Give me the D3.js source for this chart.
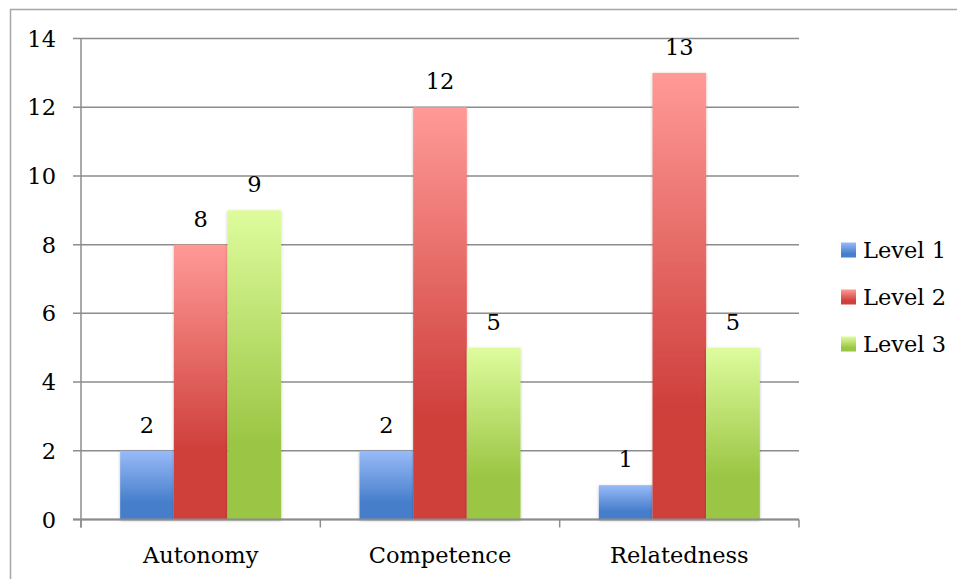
<!DOCTYPE html>
<html>
<head>
<meta charset="utf-8">
<script src="https://cdn.jsdelivr.net/npm/d3@7"></script>
<style>
  body { margin: 0; background: #fff; }
  text { font-family: "DejaVu Serif", serif; fill: #000; }
</style>
</head>
<body>
<div id="chart"></div>
<script>
const categories = ["Autonomy", "Competence", "Relatedness"];
const seriesNames = ["Level 1", "Level 2", "Level 3"];
const level1 = [2, 2, 1];
const level2 = [8, 12, 13];
const level3 = [9, 5, 5];
const yTicks = [0, 2, 4, 6, 8, 10, 12, 14];

const seriesValues = [level1, level2, level3];
const gradients = [
    {id: "g1", top: "#98bbf8", bottom: "#477ecb"},
    {id: "g2", top: "#ff9a97", bottom: "#cf3f3b"},
    {id: "g3", top: "#defc9d", bottom: "#9bc644"}
];
const fontSize = "22.5px";

const width = 957, height = 579;
const margin = {top: 38.5, right: 158, bottom: 59.5, left: 81};
const plotW = width - margin.left - margin.right;
const plotH = height - margin.top - margin.bottom;

const svg = d3.select("#chart")
    .append("svg")
    .attr("width", width)
    .attr("height", height);

const defs = svg.append("defs");
gradients.forEach(g => {
    const lg = defs.append("linearGradient")
        .attr("id", g.id)
        .attr("x1", 0).attr("y1", 0)
        .attr("x2", 0).attr("y2", 1);
    lg.append("stop").attr("offset", "0%").attr("stop-color", g.top);
    lg.append("stop").attr("offset", "75%").attr("stop-color", g.bottom);
    lg.append("stop").attr("offset", "100%").attr("stop-color", g.bottom);
});
const shadow = defs.append("filter").attr("id", "shadow")
    .attr("x", "-10%").attr("y", "-10%").attr("width", "120%").attr("height", "120%");
shadow.append("feDropShadow")
    .attr("dx", 0).attr("dy", 1).attr("stdDeviation", 1.5)
    .attr("flood-color", "#000").attr("flood-opacity", 0.25);

// outer frame
svg.append("rect")
    .attr("x", 10.5).attr("y", 9.5)
    .attr("width", 960).attr("height", 600)
    .attr("fill", "none")
    .attr("stroke", "#a6a6a6")
    .attr("stroke-width", 1.5);

const g = svg.append("g")
    .attr("transform", `translate(${margin.left},${margin.top})`);

const x = d3.scaleBand().domain(categories).range([0, plotW]);
const xInner = d3.scaleBand().domain(seriesNames)
    .range([0, x.bandwidth()]).paddingOuter(0.73).paddingInner(0);
const y = d3.scaleLinear().domain([0, 14]).range([plotH, 0]);

// gridlines
g.append("g")
    .selectAll("line")
    .data(yTicks)
    .join("line")
    .attr("x1", -8)
    .attr("x2", plotW)
    .attr("y1", d => y(d))
    .attr("y2", d => y(d))
    .attr("stroke", "#8c8c8c")
    .attr("stroke-width", 1.5);

// y axis line
g.append("line")
    .attr("x1", 0).attr("x2", 0)
    .attr("y1", 0).attr("y2", plotH + 8)
    .attr("stroke", "#8c8c8c")
    .attr("stroke-width", 1.5);

// x axis ticks
const xTickPos = categories.map(c => x(c)).concat([plotW]);
g.append("g")
    .selectAll("line")
    .data(xTickPos)
    .join("line")
    .attr("x1", d => d).attr("x2", d => d)
    .attr("y1", plotH).attr("y2", plotH + 8)
    .attr("stroke", "#8c8c8c")
    .attr("stroke-width", 1.5);

// y tick labels
g.append("g")
    .selectAll("text")
    .data(yTicks)
    .join("text")
    .attr("x", -25)
    .attr("y", d => y(d))
    .attr("dy", "0.36em")
    .attr("text-anchor", "end")
    .style("font-size", fontSize)
    .text(d => d);

// bars
const barData = [];
categories.forEach((c, i) => {
    seriesNames.forEach((s, j) => {
        barData.push({cat: c, series: s, j: j, value: seriesValues[j][i]});
    });
});

g.append("g")
    .selectAll("rect")
    .data(barData)
    .join("rect")
    .attr("x", d => x(d.cat) + xInner(d.series))
    .attr("y", d => y(d.value))
    .attr("width", xInner.bandwidth())
    .attr("height", d => plotH - y(d.value))
    .attr("fill", d => `url(#${gradients[d.j].id})`)
    .attr("filter", "url(#shadow)");

// bottom axis line on top of bars
g.append("line")
    .attr("x1", -8).attr("x2", plotW)
    .attr("y1", plotH).attr("y2", plotH)
    .attr("stroke", "#8c8c8c")
    .attr("stroke-width", 2);

// value labels
g.append("g")
    .selectAll("text")
    .data(barData)
    .join("text")
    .attr("x", d => x(d.cat) + xInner(d.series) + xInner.bandwidth() / 2)
    .attr("y", d => y(d.value) - 18)
    .attr("text-anchor", "middle")
    .style("font-size", fontSize)
    .text(d => d.value);

// category labels
g.append("g")
    .selectAll("text")
    .data(categories)
    .join("text")
    .attr("x", d => x(d) + x.bandwidth() / 2)
    .attr("y", plotH + 43)
    .attr("text-anchor", "middle")
    .style("font-size", fontSize)
    .text(d => d);

// legend
const legend = svg.append("g")
    .attr("transform", "translate(841,250)");
const item = legend.selectAll("g")
    .data(seriesNames)
    .join("g")
    .attr("transform", (d, i) => `translate(0,${i * 47})`);
item.append("rect")
    .attr("x", 0).attr("y", -7.5)
    .attr("width", 15).attr("height", 15)
    .attr("fill", (d, i) => `url(#${gradients[i].id})`);
item.append("text")
    .attr("x", 22)
    .attr("y", 0)
    .attr("dy", "0.36em")
    .style("font-size", fontSize)
    .text(d => d);
</script>
</body>
</html>
